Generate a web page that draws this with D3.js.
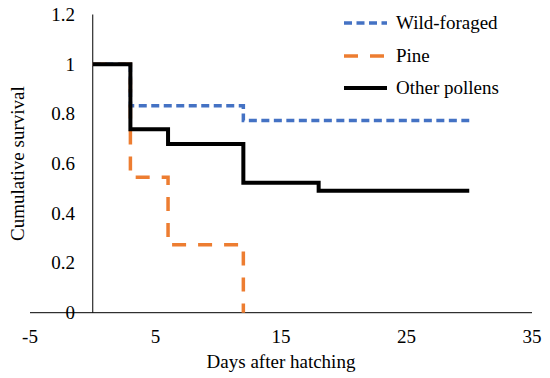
<!DOCTYPE html>
<html>
<head>
<meta charset="utf-8">
<script src="https://cdn.jsdelivr.net/npm/d3@7"></script>
<style>
  html, body { margin: 0; padding: 0; background: #fff; }
  svg { display: block; }
  text { font-family: "Liberation Serif", "Times New Roman", serif; fill: #000; }
</style>
</head>
<body>
<svg id="chart" width="550" height="378"></svg>
<script>
// ---- Data ----
const seriesNames = ["Wild-foraged", "Pine", "Other pollens"];
const wildDays = [0, 3, 12, 30];
const wildSurvival = [1, 0.833, 0.773, 0.773];
const pineDays = [0, 3, 6, 12];
const pineSurvival = [1, 0.545, 0.273, 0];
const otherDays = [0, 3, 6, 12, 18, 30];
const otherSurvival = [1, 0.738, 0.679, 0.523, 0.491, 0.491];
const xTicks = [-5, 5, 15, 25, 35];
const yTicks = [0, 0.2, 0.4, 0.6, 0.8, 1, 1.2];
const xTitle = "Days after hatching";
const yTitle = "Cumulative survival";

// ---- Styles ----
const styles = [
  { color: "#4472C4", width: 3.5, dash: "8,4.5" },
  { color: "#ED7D31", width: 3.5, dash: "14,12" },
  { color: "#000000", width: 4, dash: null }
];

const svg = d3.select("#chart");
const x = d3.scaleLinear().domain([-5, 35]).range([30, 532]);
const y = d3.scaleLinear().domain([0, 1.2]).range([312.7, 14.5]);

// Axes lines
svg.append("line").attr("x1", x(-5)).attr("x2", x(35)).attr("y1", y(0)).attr("y2", y(0))
  .attr("stroke", "#000").attr("stroke-width", 1);
svg.append("line").attr("x1", x(0)).attr("x2", x(0)).attr("y1", y(0)).attr("y2", y(1.2))
  .attr("stroke", "#000").attr("stroke-width", 1);

// Tick labels
svg.append("g").selectAll("text").data(yTicks).join("text")
  .attr("x", 75).attr("y", d => y(d)).attr("dy", "0.34em")
  .attr("text-anchor", "end").attr("font-size", 19)
  .text(d => d3.format("")(d));
svg.append("g").selectAll("text").data(xTicks).join("text")
  .attr("x", d => x(d)).attr("y", 343)
  .attr("text-anchor", "middle").attr("font-size", 19)
  .text(d => d);

// Titles
svg.append("text").attr("x", (x(-5) + x(35)) / 2).attr("y", 368)
  .attr("text-anchor", "middle").attr("font-size", 19).text(xTitle);
svg.append("text").attr("transform", `translate(24,${(y(0) + y(1.2)) / 2}) rotate(-90)`)
  .attr("text-anchor", "middle").attr("font-size", 19).text(yTitle);

// Lines
const series = [
  { name: seriesNames[0], days: wildDays, surv: wildSurvival },
  { name: seriesNames[1], days: pineDays, surv: pineSurvival },
  { name: seriesNames[2], days: otherDays, surv: otherSurvival }
];
const line = d3.line().x(d => x(d[0])).y(d => y(d[1])).curve(d3.curveStepAfter);
series.forEach((s, i) => {
  const pts = s.days.map((d, j) => [d, s.surv[j]]);
  svg.append("path").attr("d", line(pts)).attr("fill", "none")
    .attr("stroke", styles[i].color).attr("stroke-width", styles[i].width)
    .attr("stroke-dasharray", styles[i].dash);
});

// Legend
const legendY = [23, 56, 88];
series.forEach((s, i) => {
  const g = svg.append("g");
  g.append("line").attr("x1", 344).attr("x2", 387).attr("y1", legendY[i]).attr("y2", legendY[i])
    .attr("stroke", styles[i].color).attr("stroke-width", styles[i].width)
    .attr("stroke-dasharray", styles[i].dash);
  g.append("text").attr("x", 396).attr("y", legendY[i]).attr("dy", "0.34em")
    .attr("font-size", 19).text(s.name);
});
</script>
</body>
</html>
